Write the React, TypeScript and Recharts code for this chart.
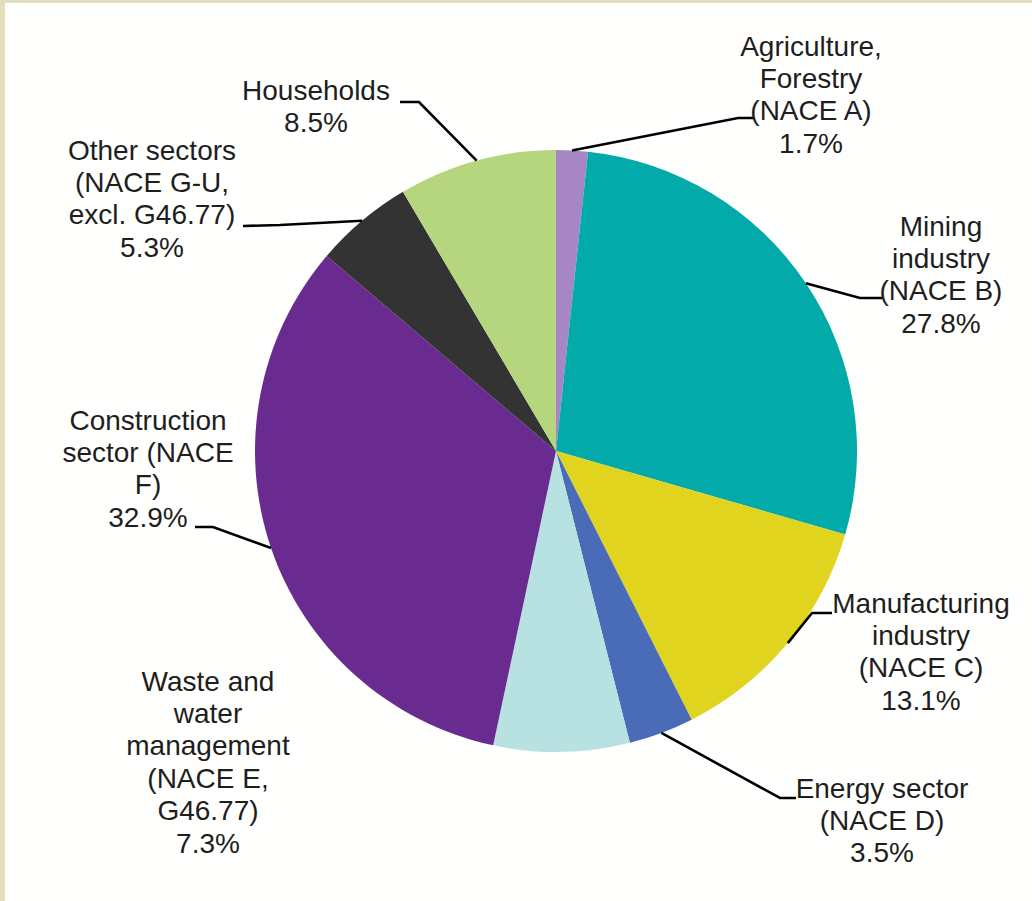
import { PieChart, Pie, Cell } from "recharts";

// Sectors, clockwise from 12 o'clock
const SECTORS = [
  "Agriculture, Forestry (NACE A)",
  "Mining industry (NACE B)",
  "Manufacturing industry (NACE C)",
  "Energy sector (NACE D)",
  "Waste and water management (NACE E, G46.77)",
  "Construction sector (NACE F)",
  "Other sectors (NACE G-U, excl. G46.77)",
  "Households",
];
const SHARES = [1.7, 27.8, 13.1, 3.5, 7.3, 32.9, 5.3, 8.5];
const LABEL_LINES = [
  ["Agriculture,", "Forestry", "(NACE A)"],
  ["Mining", "industry", "(NACE B)"],
  ["Manufacturing", "industry", "(NACE C)"],
  ["Energy sector", "(NACE D)"],
  ["Waste and", "water", "management", "(NACE E,", "G46.77)"],
  ["Construction", "sector (NACE", "F)"],
  ["Other sectors", "(NACE G-U,", "excl. G46.77)"],
  ["Households"],
];
const COLORS = [
  "#a786c6", "#02aba9", "#e0d41f", "#4a6bb8",
  "#b8e2e2", "#692b8f", "#333333", "#b5d67e",
];

// label placement: text centre x, first line y, leader elbow and end (null = no leader)
const LABEL_POS = [
  { x: 811, y: 46, elbow: [738, 118], end: [753, 118] },
  { x: 941, y: 226, elbow: [860, 298], end: [882, 298] },
  { x: 921, y: 603, elbow: [812, 613], end: [832, 613] },
  { x: 882, y: 788, elbow: [780, 798], end: [796, 798] },
  { x: 208, y: 681, elbow: null, end: null },
  { x: 148, y: 420, elbow: [213, 527], end: [195, 527] },
  { x: 152, y: 150, elbow: [280, 225], end: [243, 226] },
  { x: 316, y: 90, elbow: [419, 102], end: [400, 102] },
];
const LINE_H = 32.4;

const data = SECTORS.map((name, i) => ({ name, value: SHARES[i] }));

const RADIAN = Math.PI / 180;

function renderLabel(props: any) {
  const { cx, cy, midAngle, outerRadius, index } = props;
  const pos = LABEL_POS[index];
  const lines = [...LABEL_LINES[index], `${SHARES[index].toFixed(1)}%`];
  const sx = cx + outerRadius * Math.cos(-midAngle * RADIAN);
  const sy = cy + outerRadius * Math.sin(-midAngle * RADIAN);
  return (
    <g key={`lbl-${index}`}>
      {pos.elbow && pos.end && (
        <polyline
          points={`${sx},${sy} ${pos.elbow[0]},${pos.elbow[1]} ${pos.end[0]},${pos.end[1]}`}
          fill="none"
          stroke="#000"
          strokeWidth={2.6}
        />
      )}
      <text
        x={pos.x}
        y={pos.y}
        textAnchor="middle"
        fill="#1e1e1e"
        fontSize={28}
        fontFamily="'Liberation Sans', Arial, sans-serif"
      >
        {lines.map((t, j) => (
          <tspan key={j} x={pos.x} y={pos.y + j * LINE_H} dominantBaseline="central">
            {t}
          </tspan>
        ))}
      </text>
    </g>
  );
}

export default function App() {
  return (
    <div style={{ position: "absolute", left: 0, top: 0, width: 1032, height: 901, background: "#fffffd" }}>
      <div style={{ position: "absolute", left: 0, top: 0, width: 1032, height: 3, background: "#e3dfbb" }} />
      <div style={{ position: "absolute", left: 0, top: 0, width: 5, height: 901, background: "#e3dfbb" }} />
      <div style={{ position: "absolute", left: 0, top: 0 }}>
        <PieChart width={1032} height={901} margin={{ top: 0, right: 0, bottom: 0, left: 0 }}>
          <Pie
            data={data}
            dataKey="value"
            nameKey="name"
            cx={556}
            cy={451}
            outerRadius={301}
            startAngle={90}
            endAngle={-270}
            stroke="none"
            label={renderLabel}
            labelLine={false}
            isAnimationActive={false}
          >
            {data.map((d, i) => (
              <Cell key={d.name} fill={COLORS[i]} />
            ))}
          </Pie>
        </PieChart>
      </div>
    </div>
  );
}
